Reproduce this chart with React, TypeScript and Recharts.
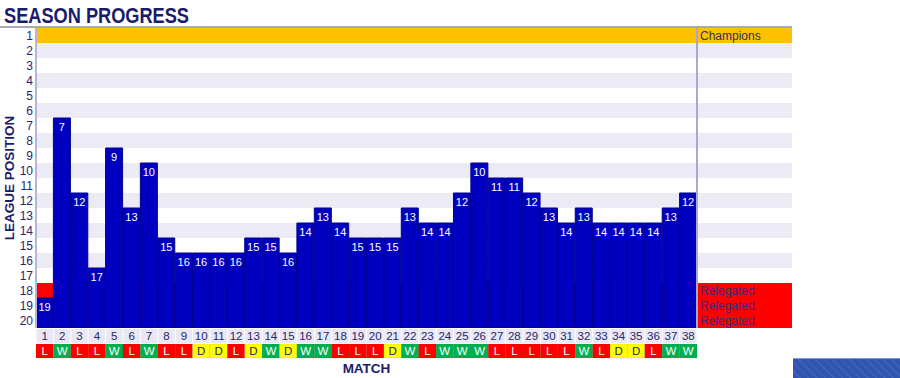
import { Bar, BarChart, LabelList, ReferenceArea, ReferenceLine, XAxis, YAxis } from "recharts";

const matches = [
  1, 2, 3, 4, 5, 6, 7, 8, 9, 10, 11, 12, 13, 14, 15, 16, 17, 18, 19,
  20, 21, 22, 23, 24, 25, 26, 27, 28, 29, 30, 31, 32, 33, 34, 35, 36, 37, 38,
];
const positions = [
  19, 7, 12, 17, 9, 13, 10, 15, 16, 16, 16, 16, 15, 15, 16, 14, 13, 14, 15,
  15, 15, 13, 14, 14, 12, 10, 11, 11, 12, 13, 14, 13, 14, 14, 14, 14, 13, 12,
];
const results = [
  "L", "W", "L", "L", "W", "L", "W", "L", "L", "D", "D", "L", "D", "W", "D", "W", "W", "L", "L",
  "L", "D", "W", "L", "W", "W", "W", "L", "L", "L", "L", "L", "W", "L", "D", "D", "L", "W", "W",
];
const leaguePositions = [1, 2, 3, 4, 5, 6, 7, 8, 9, 10, 11, 12, 13, 14, 15, 16, 17, 18, 19, 20];
const championRows = [1];
const relegatedRows = [18, 19, 20];

const NAVY = "#26266c";
const FONT = "'Liberation Sans', Arial, sans-serif";
const NUM_TEAMS = leaguePositions.length;

// layout
const W = 900;
const H = 378;
const TOP = 28;
const LEFT = 36;
const RIGHT_EDGE = 792;
const PLOT_W = RIGHT_EDGE - LEFT;
const PANEL_W = 95;
const COL_W = (PLOT_W - PANEL_W) / matches.length;
const FULL_MAX = matches.length + 0.5 + PANEL_W / COL_W;

const resultFill: Record<string, string> = { W: "#00b050", L: "#ff0000", D: "#ffff00" };
const resultText: Record<string, string> = { W: "#ffffff", L: "#ffffff", D: NAVY };

const data = matches.map((m, i) => ({
  match: m,
  pos: positions[i],
  height: NUM_TEAMS + 1 - positions[i],
  result: results[i],
}));

// row p sits between y = 20 - p and y = 21 - p
const rowTop = (p: number) => NUM_TEAMS + 1 - p;
const rowBottom = (p: number) => NUM_TEAMS - p;

function rowFill(p: number) {
  if (championRows.includes(p)) return "#ffc000";
  if (relegatedRows.includes(p)) return "#ff0000";
  return p % 2 === 0 ? "#ecebf5" : "#ffffff";
}

function MatchTick(props: any) {
  const { x, y, payload } = props;
  const r = results[payload.value - 1];
  return (
    <g>
      <rect x={x - COL_W / 2 + 0.5} y={y + 1} width={COL_W - 1} height={14} fill="#e8e7f3" />
      <text x={x} y={y + 12} textAnchor="middle" fontSize={11.5} fill={NAVY} fontFamily={FONT}>
        {payload.value}
      </text>
      <rect
        x={x - COL_W / 2}
        y={y + 16}
        width={COL_W}
        height={14}
        fill={resultFill[r]}
        stroke="rgba(0,0,0,0.12)"
        strokeWidth={0.6}
      />
      <text x={x} y={y + 27} textAnchor="middle" fontSize={11.5} fill={resultText[r]} fontFamily={FONT}>
        {r}
      </text>
    </g>
  );
}

export default function App() {
  return (
    <div style={{ position: "absolute", left: 0, top: 0, width: W, height: H, background: "#fff", fontFamily: FONT }}>
      <svg width={W} height={TOP} style={{ position: "absolute", left: 0, top: 0 }}>
        <text
          x={4}
          y={23}
          fontSize={22}
          fontWeight="bold"
          fill="#1b1b6b"
          textLength={185}
          lengthAdjust="spacingAndGlyphs"
          fontFamily={FONT}
        >
          SEASON PROGRESS
        </text>
        <line x1={0} x2={RIGHT_EDGE} y1={27} y2={27} stroke="#a9a9b3" strokeWidth={2} />
      </svg>
      <div style={{ position: "absolute", left: 0, top: 0 }}>
        <BarChart
          width={W}
          height={H}
          data={data}
          barCategoryGap={0}
          margin={{ top: TOP, right: W - RIGHT_EDGE, bottom: 0, left: 0 }}
        >
          <XAxis
            dataKey="match"
            type="category"
            interval={0}
            height={50}
            padding={{ left: 0, right: PANEL_W }}
            axisLine={false}
            tickLine={false}
            tickSize={0}
            tickMargin={0}
            tick={<MatchTick />}
            label={{
              content: () => (
                <text
                  x={LEFT + (PLOT_W - PANEL_W) / 2}
                  y={373}
                  textAnchor="middle"
                  fontSize={13.5}
                  fontWeight="bold"
                  fill="#1b1b6b"
                  fontFamily={FONT}
                >
                  MATCH
                </text>
              ),
            }}
          />
          <XAxis
            xAxisId="full"
            dataKey="match"
            type="number"
            domain={[0.5, FULL_MAX]}
            allowDataOverflow
            hide
          />
          <YAxis
            type="number"
            domain={[0, NUM_TEAMS]}
            allowDataOverflow
            width={LEFT}
            ticks={leaguePositions.map((p) => NUM_TEAMS + 0.5 - p)}
            tickFormatter={(v: number) => String(NUM_TEAMS + 0.5 - v)}
            interval={0}
            tickLine={false}
            tickSize={0}
            tickMargin={3}
            axisLine={{ stroke: "#b6b4da", strokeWidth: 2 }}
            tick={{ fill: NAVY, fontSize: 12, fontFamily: FONT }}
            label={{
              content: () => (
                <text
                  x={9}
                  y={TOP + 150}
                  transform={`rotate(-90 9 ${TOP + 150})`}
                  textAnchor="middle"
                  dominantBaseline="central"
                  fontSize={13.5}
                  fontWeight="bold"
                  fill="#1b1b6b"
                  fontFamily={FONT}
                >
                  LEAGUE POSITION
                </text>
              ),
            }}
          />
          {leaguePositions
            .filter((p) => rowFill(p) !== "#ffffff")
            .map((p) => (
              <ReferenceArea
                key={`band-${p}`}
                xAxisId="full"
                x1={0.5}
                x2={FULL_MAX}
                y1={rowBottom(p)}
                y2={rowTop(p)}
                fill={rowFill(p)}
                fillOpacity={1}
                stroke="none"
                ifOverflow="visible"
              />
            ))}
          {championRows.map((p) => (
            <ReferenceArea
              key={`champ-${p}`}
              xAxisId="full"
              x1={matches.length + 0.5}
              x2={FULL_MAX}
              y1={rowBottom(p)}
              y2={rowTop(p)}
              fillOpacity={0}
              stroke="none"
              ifOverflow="visible"
              label={{ value: "Champions", position: "insideLeft", offset: 3, fill: "#33305f", fontSize: 12 }}
            />
          ))}
          {relegatedRows.map((p) => (
            <ReferenceArea
              key={`rel-${p}`}
              xAxisId="full"
              x1={matches.length + 0.5}
              x2={FULL_MAX}
              y1={rowBottom(p)}
              y2={rowTop(p)}
              fillOpacity={0}
              stroke="none"
              ifOverflow="visible"
              label={{ value: "Relegated", position: "insideLeft", offset: 3, fill: "#3a2a80", fontSize: 12 }}
            />
          ))}
          <Bar dataKey="height" fill="#0000c0" stroke="#00008a" strokeWidth={1} isAnimationActive={false}>
            <LabelList dataKey="pos" position="insideTop" offset={5} fill="#ffffff" fontSize={11} />
          </Bar>
          <ReferenceLine
            xAxisId="full"
            x={matches.length + 0.5}
            stroke="#a9a6d0"
            strokeWidth={2}
            ifOverflow="visible"
          />
        </BarChart>
      </div>
      <div
        style={{
          position: "absolute",
          left: 793,
          top: 358,
          width: 107,
          height: 20,
          boxSizing: "border-box",
          borderTop: "1px solid #7f98d6",
          background:
            "repeating-linear-gradient(45deg, #2f55ae 0px, #2f55ae 4px, #3a60b8 4px, #3a60b8 6px)",
        }}
      />
    </div>
  );
}
